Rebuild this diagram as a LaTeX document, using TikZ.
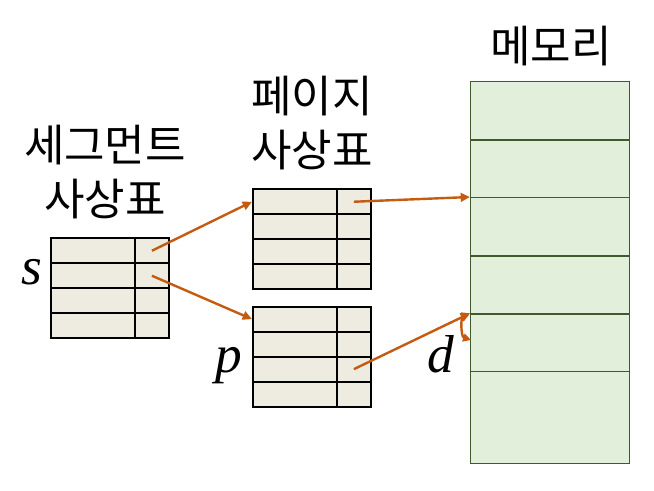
\documentclass[tikz,border=0pt]{standalone}
\usepackage{fontspec}
\setmainfont{Noto Sans CJK KR}
\newfontfamily\varfont{Liberation Serif}
\usetikzlibrary{arrows.meta,positioning}
\definecolor{tabFill}{HTML}{EEECE1}
\definecolor{memFill}{HTML}{E2EFDA}
\definecolor{memLine}{HTML}{3F5A2B}
\definecolor{ptrArrow}{HTML}{C55A11}

\begin{document}
\begin{tikzpicture}[
            x=0.75pt, y=-0.75pt,
            >=Triangle,
            title/.style={align=center, font=\fontsize{33}{40.5}\selectfont},
            var/.style={font=\fontsize{40}{44}\selectfont\varfont\itshape},
            cell/.style={
                draw,
                line width=1.4pt,
                fill=tabFill,
                anchor=north west,
                inner sep=0pt,
                minimum height=25*0.75pt
            },
            wide/.style={cell, minimum width=84*0.75pt},
            narrow/.style={cell, minimum width=34*0.75pt},
            memrow/.style={
                draw=memLine,
                line width=1pt,
                fill=memFill,
                anchor=north west,
                inner sep=0pt,
                minimum width=159*0.75pt
            },
            arrow/.style={-{Triangle[length=7pt, width=6.5pt]}, line width=1.8pt, draw=ptrArrow},
            offset/.style={{Triangle[length=6pt, width=6pt]}-{Triangle[length=6pt, width=6pt]},
                           line width=1.8pt, draw=ptrArrow}
        ]
        \useasboundingbox (0,0) rectangle (654,490);

        %---------------- Titles ----------------%
        \node[title] (segtitle) at (105,172) {세그먼트\\사상표};
        \node[title] (pgtitle) at (312,123) {페이지\\사상표};
        \node[title] (memtitle) at (551,46) {메모리};

        %---------------- Segment table ----------------%
        \foreach \r in {1,...,4} {
            \node[wide] (seg-\r-a) at (50,{237.3+25*(\r-1)}) {};
            \node[narrow] (seg-\r-b) at (134,{237.3+25*(\r-1)}) {};
        }

        %---------------- Page tables ----------------%
        \foreach \r in {1,...,4} {
            \node[wide] (pga-\r-a) at (252,{188.3+25*(\r-1)}) {};
            \node[narrow] (pga-\r-b) at (336,{188.3+25*(\r-1)}) {};
            \node[wide] (pgb-\r-a) at (252,{305.7+25*(\r-1)}) {};
            \node[narrow] (pgb-\r-b) at (336,{305.7+25*(\r-1)}) {};
        }

        %---------------- Memory ----------------%
        \foreach \r/\top/\h in {1/80.7/58.6, 2/139.3/57.7, 3/197/58.3, 4/255.3/58, 5/313.3/57.7, 6/371/91.7} {
            \node[memrow, minimum height=\h*0.75pt] (mem-\r) at (470,\top) {};
        }

        %---------------- Variables ----------------%
        \node[var] (svar) at (32,272) {s};
        \node[var] (pvar) at (229,366) {p};
        \node[var] (dvar) at (441,354) {d};

        %================ Pointers =================%
        \draw[arrow] (seg-1-b.center) -- (pga-1-a.west);
        \draw[arrow] (seg-2-b.center) -- (pgb-1-a.west);
        \draw[arrow] (pga-1-b.center) -- (mem-3.north west);
        \draw[arrow] (pgb-3-b.center) -- (mem-5.north west);

        % offset inside the frame
        \coordinate (dend) at (471,340);
        \draw[offset] (mem-5.north west) to[bend right=70] (dend);

\end{tikzpicture}
\end{document}
